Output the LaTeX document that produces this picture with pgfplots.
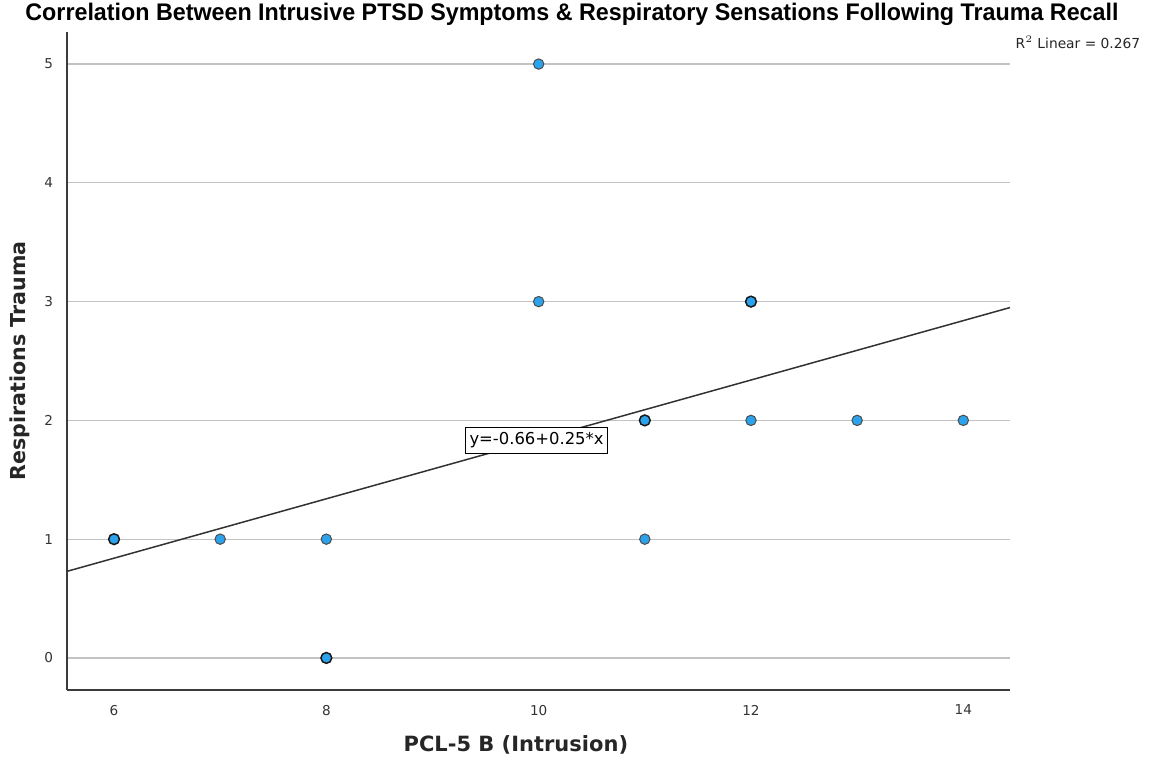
\documentclass[border=0pt]{standalone}
\usepackage{graphicx}
\usepackage{fontspec}
\setmainfont{DejaVu Sans}
\newfontfamily\titlefont{Liberation Sans}
\usepackage{pgfplots}
\pgfplotsset{compat=1.18}
\definecolor{ptblue}{RGB}{43,163,236}
\definecolor{gridgray}{RGB}{195,195,195}
\definecolor{axgray}{RGB}{60,60,60}
\begin{document}
\begin{tikzpicture}
\useasboundingbox (-33.5pt,-35.5pt) rectangle (542.5pt,345pt);
\begin{axis}[
  scale only axis,
  width=471.5pt, height=329pt,
  xmin=5.557, xmax=14.44,
  ymin=-0.27, ymax=5.27,
  axis x line*=bottom, axis y line*=left,
  axis line style={axgray, line width=0.8pt},
  xtick={6,8,10,12,14}, ytick={0,1,2,3,4,5},
  major tick length=0pt,
  ymajorgrids, grid style={gridgray, line width=0.6pt},
  /pgf/number format/assume math mode=true,
  tick label style={font=\fontsize{6.8pt}{7.5pt}\selectfont, text=black!80},
  yticklabel style={xshift=-3.5pt},
  xticklabel style={yshift=-4pt},
  title={\scalebox{0.97}[1]{\titlefont\bfseries\fontsize{12pt}{13pt}\selectfont Correlation Between Intrusive PTSD Symptoms \& Respiratory Sensations Following Trauma Recall}},
  title style={at={(axis description cs:0.5355,1.0274)}, anchor=center, inner sep=0pt, yshift=-6pt},
  xlabel={\bfseries\fontsize{10.5pt}{11pt}\selectfont PCL-5 B (Intrusion)},
  xlabel style={at={(axis description cs:0.476,-0.0836)}, anchor=center, text=black!85},
  ylabel={\bfseries\fontsize{10.3pt}{11pt}\selectfont Respirations Trauma},
  ylabel style={at={(axis description cs:-0.0498,0.5)}, anchor=center, text=black!85},
  clip=false,
]
\addplot[draw={rgb,255:red,50;green,50;blue,50}, line width=0.75pt] coordinates {(5.557,0.729) (14.44,2.95)};
\addplot[only marks, mark=*, mark size=2.6pt, mark options={fill=ptblue, draw=black!70, line width=0.5pt}] coordinates {
(7,1) (8,1) (10,5) (10,3) (11,1) (12,2) (13,2) (14,2)
};
\addplot[only marks, mark=*, mark size=2.7pt, mark options={fill=ptblue, draw=black!90, line width=0.75pt}] coordinates {
(6,1) (8,0) (11,2) (12,3)
};
\node[draw=black, fill=white, line width=0.6pt, inner xsep=2pt, inner ysep=2.6pt, font=\fontsize{8.2pt}{9pt}\selectfont] at (axis cs:9.98,1.83) {y=-0.66+0.25*x};
\node[anchor=north east, inner sep=0pt, font=\fontsize{6.9pt}{7.5pt}\selectfont, text=black!85] at (axis description cs:1.1385,0.994) {R$^{2}$ Linear = 0.267};
\end{axis}
\end{tikzpicture}
\end{document}
